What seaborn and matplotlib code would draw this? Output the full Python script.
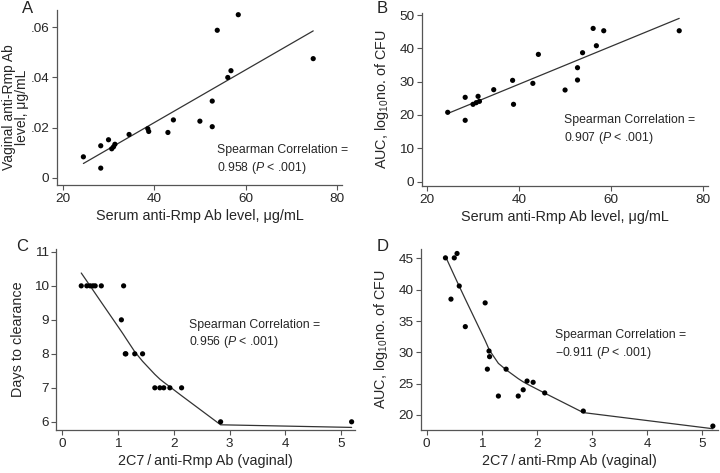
import numpy as np
import pandas as pd
import matplotlib
matplotlib.use("Agg")
import matplotlib.pyplot as plt
import seaborn as sns

sns.set_style("ticks")
plt.rcParams["font.family"] = ["Liberation Sans", "DejaVu Sans"]
plt.rcParams["mathtext.fontset"] = "custom"
plt.rcParams["mathtext.rm"] = "Liberation Sans"
plt.rcParams["mathtext.it"] = "Liberation Sans:italic"

# serum anti-Rmp Ab level (panels A, B)
serum = [24.5, 28.3, 28.3, 30.0, 30.7, 31.1, 31.4, 34.5, 38.6, 38.8,
         43.0, 44.2, 50.0, 52.7, 52.7, 53.8, 56.1, 56.8, 58.4, 74.8]
vaginal = [0.0084, 0.0128, 0.0039, 0.0152, 0.0116, 0.0124, 0.0134, 0.0173, 0.0196, 0.0185,
           0.0181, 0.0231, 0.0226, 0.0204, 0.0306, 0.0588, 0.0400, 0.0427, 0.0650, 0.0475]
auc_b = [20.8, 25.3, 18.4, 23.2, 23.7, 25.6, 24.1, 27.6, 30.4, 23.2,
         29.5, 38.2, 27.5, 34.2, 30.5, 38.7, 46.0, 40.8, 45.3, 45.3]

# 2C7 / anti-Rmp ratio (panels C, D)
ratio = [0.34, 0.44, 0.50, 0.55, 0.59, 0.70, 1.06, 1.10, 1.13, 1.14,
         1.30, 1.44, 1.66, 1.75, 1.82, 1.93, 2.14, 2.84, 5.19]
days = [10, 10, 10, 10, 10, 10, 9, 10, 8, 8,
        8, 8, 7, 7, 7, 7, 7, 6, 6]
auc_d = [45.1, 38.5, 45.1, 45.8, 40.6, 34.1, 37.9, 27.3, 30.2, 29.3,
         23.0, 27.3, 23.0, 24.0, 25.4, 25.2, 23.5, 20.6, 18.2]


def lowess(x, y, frac=0.8, iters=3):
    # local linear fit on the nearest frac*n points, tricube weights,
    # with a few robustness passes
    x = np.asarray(x, float)
    y = np.asarray(y, float)
    order = np.argsort(x)
    x, y = x[order], y[order]
    n = len(x)
    q = int(np.ceil(frac * n))
    rw = np.ones(n)
    for it in range(iters + 1):
        fit = np.empty(n)
        for i in range(n):
            dist = np.abs(x - x[i])
            h = np.sort(dist)[q - 1] * 1.0001
            w = (1 - np.clip(dist / h, 0, 1) ** 3) ** 3 * rw
            xm = np.sum(w * x) / w.sum()
            ym = np.sum(w * y) / w.sum()
            b = np.sum(w * (x - xm) * (y - ym)) / np.sum(w * (x - xm) ** 2)
            fit[i] = ym + b * (x[i] - xm)
        res = y - fit
        s = np.median(np.abs(res))
        if s == 0:
            break
        rw = (1 - np.clip(res / (6 * s), -1, 1) ** 2) ** 2
    return x, fit


fig = plt.figure(figsize=(7.2, 4.73), dpi=100)
axA = fig.add_axes([0.079, 0.609, 0.396, 0.370])
axB = fig.add_axes([0.586, 0.607, 0.397, 0.366])
axC = fig.add_axes([0.078, 0.091, 0.415, 0.383])
axD = fig.add_axes([0.585, 0.090, 0.412, 0.384])

dot = dict(color="black", s=14, edgecolor="none", zorder=3)
line_kw = dict(color="#333333", lw=0.9)
note = dict(va="top", ha="left", fontsize=8.8, linespacing=1.35)

# A
sns.scatterplot(x=serum, y=vaginal, ax=axA, **dot)
sns.regplot(x=serum, y=vaginal, ax=axA, scatter=False, ci=None, truncate=True, line_kws=line_kw)
axA.set_xlim(18.7, 81.1)
axA.set_ylim(-0.0028, 0.0669)
axA.set_xticks([20, 40, 60, 80])
axA.set_yticks([0, 0.02, 0.04, 0.06])
axA.set_yticklabels(["0", ".02", ".04", ".06"])
axA.set_xlabel("Serum anti-Rmp Ab level, μg/mL")
axA.text(0.561, 0.235, "Spearman Correlation =\n0.958 ($P$ < .001)", transform=axA.transAxes, **note)

# B
sns.scatterplot(x=serum, y=auc_b, ax=axB, **dot)
sns.regplot(x=serum, y=auc_b, ax=axB, scatter=False, ci=None, truncate=True, line_kws=line_kw)
axB.set_xlim(18.9, 81.0)
axB.set_ylim(-1.3, 50.7)
axB.set_xticks([20, 40, 60, 80])
axB.set_yticks([0, 10, 20, 30, 40, 50])
axB.set_xlabel("Serum anti-Rmp Ab level, μg/mL")
axB.set_ylabel("AUC, log$_{10}$no. of CFU")
axB.text(0.497, 0.415, "Spearman Correlation =\n0.907 ($P$ < .001)", transform=axB.transAxes, **note)

# C
sns.scatterplot(x=ratio, y=days, ax=axC, **dot)
lx, ly = lowess(ratio, days)
sns.lineplot(x=lx, y=ly, ax=axC, sort=False, estimator=None, **line_kw)
axC.set_xlim(-0.11, 5.25)
axC.set_ylim(5.76, 11.09)
axC.set_xticks([0, 1, 2, 3, 4, 5])
axC.set_yticks([6, 7, 8, 9, 10, 11])
axC.set_xlabel("2C7\u2009/\u2009anti-Rmp Ab (vaginal)")
axC.set_ylabel("Days to clearance")
axC.text(0.445, 0.615, "Spearman Correlation =\n0.956 ($P$ < .001)", transform=axC.transAxes, **note)

# D
sns.scatterplot(x=ratio, y=auc_d, ax=axD, **dot)
lx, ly = lowess(ratio, auc_d)
sns.lineplot(x=lx, y=ly, ax=axD, sort=False, estimator=None, **line_kw)
axD.set_xlim(-0.1, 5.28)
axD.set_ylim(17.5, 46.55)
axD.set_xticks([0, 1, 2, 3, 4, 5])
axD.set_yticks([20, 25, 30, 35, 40, 45])
axD.set_xlabel("2C7\u2009/\u2009anti-Rmp Ab (vaginal)")
axD.set_ylabel("AUC, log$_{10}$no. of CFU")
axD.text(0.451, 0.56, "Spearman Correlation =\n\u22120.911 ($P$ < .001)", transform=axD.transAxes, **note)

for ax in [axA, axB, axC, axD]:
    sns.despine(ax=ax)
    for s in ["left", "bottom"]:
        ax.spines[s].set_color("#555555")
        ax.spines[s].set_linewidth(0.9)
    ax.tick_params(labelsize=9.7, length=3.5, width=0.8, color="#555555", pad=2)
    ax.xaxis.label.set_size(10.4)
    ax.yaxis.label.set_size(10.4)
    ax.xaxis.labelpad = 3
    ax.yaxis.labelpad = 6

# two-line label on A, kept narrow so it fits at the left edge
axA.text(-0.098, 0.445, "Vaginal anti-Rmp Ab\nlevel, μg/mL", transform=axA.transAxes,
         rotation=90, rotation_mode="anchor", ha="center", va="bottom",
         fontsize=10, linespacing=0.92, multialignment="center")

for lab, (x, y) in zip("ABCD", [(0.03, 0.998), (0.523, 0.998), (0.023, 0.495), (0.523, 0.495)]):
    fig.text(x, y, lab, fontsize=12, ha="left", va="top", color="#222222")

fig.savefig("out.png", dpi=100)
